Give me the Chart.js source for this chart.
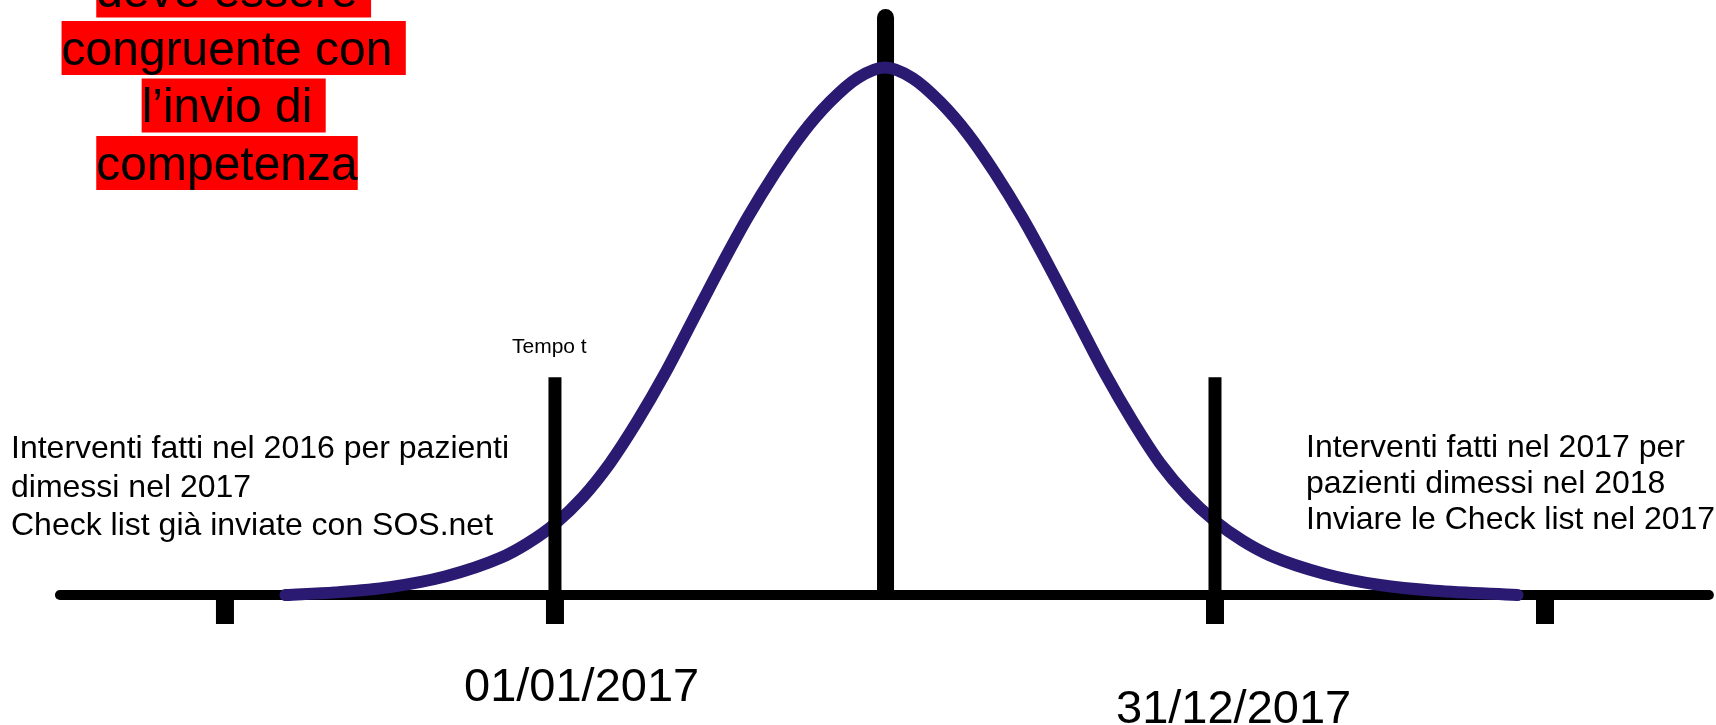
<!DOCTYPE html>
<html>
<head>
<meta charset="utf-8">
<script src="https://cdn.jsdelivr.net/npm/chart.js@4.4.1/dist/chart.umd.min.js"></script>
<style>
    html, body { margin: 0; padding: 0; background: #fff; }
    #diagram { display: block; }
</style>
</head>
<body>
<canvas id="diagram" width="1716" height="725"></canvas>
<script>
// x is in months from 01/01/2017, y is the height of the bell (peak = 100)
const curveMonths  = [-4.9, -4, -3, -2, -1, -0.5, 0, 0.5, 1, 1.5, 2, 2.5, 3, 3.5, 4, 4.5, 5, 5.5, 6,
                      6.5, 7, 7.5, 8, 8.5, 9, 9.5, 10, 10.5, 11, 11.5, 12, 12.5, 13, 14, 15, 16, 17.5];
const curveHeights = [0, 0.5, 1.5, 3.5, 7, 9.8, 13.5, 18.5, 25, 33, 42, 52, 62, 71.5, 80, 87.5, 93.5, 98, 100,
                      98, 93.5, 87.5, 80, 71.5, 62, 52, 42, 33, 25, 18.8, 14, 10.3, 7.5, 4, 1.9, 0.8, 0];

const axisRange   = [-9.0, 20.98];
const tickMonths  = [-6, 0, 12, 18];
const tickDepth   = -5.5;
const sideBars    = [0, 12];
const sideBarTop  = 41.3;
const centerBar   = 6.01;
const centerTop   = 109.5;

const dateLabels  = ["01/01/2017", "31/12/2017"];
const redLines    = ["deve essere ", "congruente con ", "l\u2019invio di ", "competenza"];
const leftNote    = ["Interventi fatti nel 2016 per pazienti", "dimessi nel 2017", "Check list già inviate con SOS.net"];
const rightNote   = ["Interventi fatti nel 2017 per", "pazienti dimessi nel 2018", "Inviare le Check list nel 2017"];

const FONT = "'Liberation Sans', Arial, sans-serif";

function seg(x1, y1, x2, y2) {
    return [{ x: x1, y: y1 }, { x: x2, y: y2 }];
}

const datasets = [];

// main horizontal axis
datasets.push({
    data: seg(axisRange[0], 0, axisRange[1], 0),
    borderColor: '#000',
    borderWidth: 10,
    borderCapStyle: 'round',
    order: 5
});

// central bar (under the curve)
datasets.push({
    data: seg(centerBar, 0.8, centerBar, centerTop),
    borderColor: '#000',
    borderWidth: 17,
    borderCapStyle: 'round',
    order: 4
});

// bell curve
datasets.push({
    data: curveMonths.map((m, i) => ({ x: m, y: curveHeights[i] })),
    borderColor: '#2a1a72',
    borderWidth: 12,
    borderCapStyle: 'round',
    borderJoinStyle: 'round',
    cubicInterpolationMode: 'monotone',
    order: 3
});

// bars for 01/01 and 31/12 (over the curve)
sideBars.forEach(m => {
    datasets.push({
        data: seg(m, 0, m, sideBarTop),
        borderColor: '#000',
        borderWidth: 13,
        borderCapStyle: 'butt',
        order: 2
    });
});

// small ticks under the axis
tickMonths.forEach(m => {
    datasets.push({
        data: seg(m, 0, m, tickDepth),
        borderColor: '#000',
        borderWidth: 18,
        borderCapStyle: 'butt',
        order: 1
    });
});

const textPlugin = {
    id: 'notes',
    afterDraw: (chart) => {
        const ctx = chart.ctx;
        ctx.save();
        ctx.textBaseline = 'alphabetic';
        ctx.textAlign = 'left';
        ctx.fillStyle = '#000';

        // red highlighted block, top left
        ctx.font = '48px ' + FONT;
        const baselines = [7, 64.5, 122, 179.5];
        redLines.forEach((line, i) => {
            const full = ctx.measureText(line).width;
            const trimmed = ctx.measureText(line.trimEnd()).width;
            const left = 227 - trimmed / 2;
            ctx.fillStyle = '#ff0000';
            ctx.fillRect(left, baselines[i] - 43.5, full, 54);
            ctx.fillStyle = '#000';
            ctx.fillText(line, left, baselines[i]);
        });

        // Tempo t
        ctx.font = '21px ' + FONT;
        ctx.fillText("Tempo t", 512, 353);

        // side notes
        ctx.font = '32px ' + FONT;
        leftNote.forEach((line, i) => ctx.fillText(line, 11, 458 + i * 38.5));
        rightNote.forEach((line, i) => ctx.fillText(line, 1306, 457 + i * 36));

        // dates under the axis
        ctx.font = '47px ' + FONT;
        ctx.fillText(dateLabels[0], 464, 701);
        ctx.fillText(dateLabels[1], 1116, 723);

        ctx.restore();
    }
};

const diagramChart = new Chart(document.getElementById('diagram'), {
    type: 'line',
    data: { datasets: datasets },
    options: {
        responsive: false,
        animation: false,
        devicePixelRatio: 1,
        layout: { padding: 0 },
        elements: { point: { radius: 0, hoverRadius: 0 } },
        plugins: {
            legend: { display: false },
            tooltip: { enabled: false }
        },
        scales: {
            x: { type: 'linear', display: false, min: -10.09, max: 21.109 },
            y: { type: 'linear', display: false, min: -24.64, max: 112.8 }
        }
    },
    plugins: [textPlugin]
});
</script>
</body>
</html>
